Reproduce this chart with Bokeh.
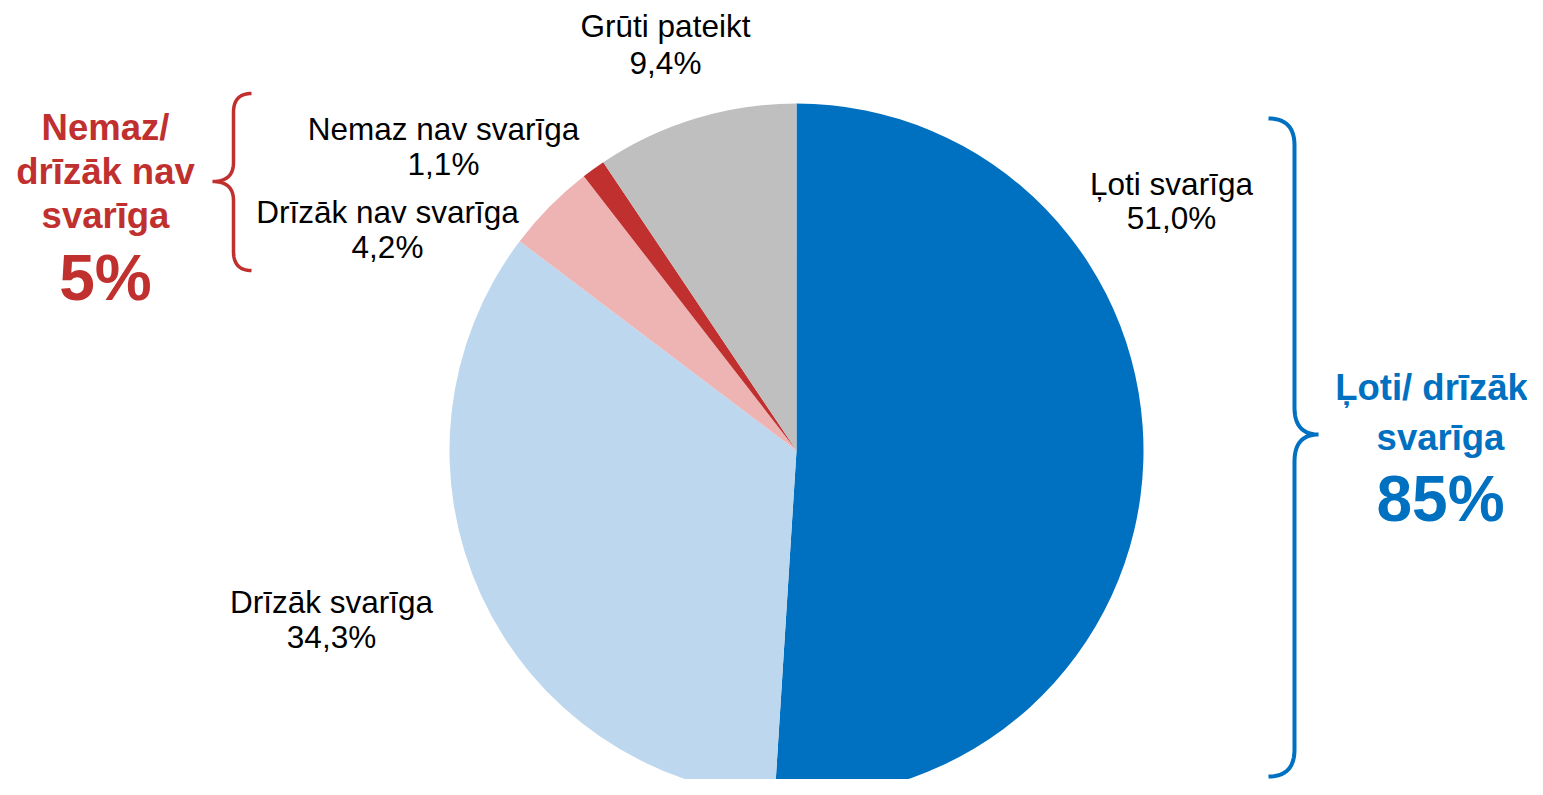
import numpy as np
from bokeh.plotting import figure
from bokeh.models import Range1d
from bokeh.core.properties import value
from bokeh.embed import file_html
from bokeh.resources import INLINE

# ---------------- data ----------------
categories = ["Ļoti svarīga", "Drīzāk svarīga", "Drīzāk nav svarīga", "Nemaz nav svarīga", "Grūti pateikt"]
values = [51.0, 34.3, 4.2, 1.1, 9.4]
colors = ["#0070C0", "#BDD7EE", "#EEB4B4", "#C0302F", "#BFBFBF"]

group_labels = [["Nemaz/", "drīzāk nav", "svarīga"], ["Ļoti/ drīzāk", "svarīga"]]
group_values = ["5%", "85%"]
group_colors = ["#C0302F", "#0070C0"]

# ---------------- layout (screen pixel coordinates) ----------------
W, H = 1527, 779
def Y(sy):
    return H - sy

FONT = "Liberation Sans"
cx, cy, R = 796, 450, 347

p = figure(width=W, height=H, output_backend="svg", toolbar_location=None,
           x_range=Range1d(0, W), y_range=Range1d(0, H), min_border=0)
p.axis.visible = False
p.grid.visible = False
p.outline_line_color = None
p.background_fill_color = "white"
p.border_fill_color = "white"

# pie wedges, clockwise from 12 o'clock
vals = np.array(values)
frac = vals / vals.sum()
cum = np.concatenate([[0], np.cumsum(frac)])
start = np.pi / 2 - cum[:-1] * 2 * np.pi
end = np.pi / 2 - cum[1:] * 2 * np.pi
p.wedge(x=[cx] * len(values), y=[Y(cy)] * len(values), radius=R,
        start_angle=list(start), end_angle=list(end), direction="clock",
        fill_color=colors, line_color=None)

# slice labels: (center x, first line center y, second line center y)
label_pos = [(1171, 183, 217), (331, 601, 636), (387, 211, 246), (443, 128, 163), (665, 25, 62)]
for name, v, (lx, l1, l2) in zip(categories, values, label_pos):
    pct = f"{v:.1f}%".replace(".", ",")
    p.text(x=[lx, lx], y=[Y(l1), Y(l2)], text=[name, pct],
           text_font=value(FONT), text_font_size="31.5px", text_color="#000000",
           text_align="center", text_baseline="middle")

# group summaries: (center x, line centers, big value center)
group_pos = [([105, 105, 105], [127, 171, 215], 105, 277),
             ([1431, 1440], [387, 437], 1440, 498)]
for lines, gv, gc, (gxs, cys, vx, vy) in zip(group_labels, group_values, group_colors, group_pos):
    p.text(x=gxs, y=[Y(c) for c in cys], text=lines,
           text_font=value(FONT), text_font_size="36.5px", text_font_style="bold",
           text_color=gc, text_align="center", text_baseline="middle")
    p.text(x=[vx], y=[Y(vy)], text=[gv],
           text_font=value(FONT), text_font_size="64px", text_font_style="bold",
           text_color=gc, text_align="center", text_baseline="middle")

# curly braces
def quad(p0, c, p1, n=20):
    t = np.linspace(0, 1, n)[:, None]
    p0, c, p1 = map(np.array, (p0, c, p1))
    return (1 - t) ** 2 * p0 + 2 * (1 - t) * t * c + t ** 2 * p1

def brace(xv, top, mid, bottom, xend, xtip, r):
    pts = [quad((xend, top), (xv, top), (xv, top + r)),
           np.array([[xv, mid - r]]),
           quad((xv, mid - r), (xv, mid), (xtip, mid)),
           quad((xtip, mid), (xv, mid), (xv, mid + r)),
           np.array([[xv, bottom - r]]),
           quad((xv, bottom - r), (xv, bottom), (xend, bottom))]
    a = np.vstack(pts)
    return a[:, 0], H - a[:, 1]

bx, by = brace(1294, 118, 434, 776, 1268, 1318, 27)
p.line(bx, by, line_color="#0070C0", line_width=4)
bx, by = brace(233, 93, 181, 270, 251, 212, 19)
p.line(bx, by, line_color="#C0302F", line_width=3.5)

open("out.html", "w").write(file_html(p, INLINE))
